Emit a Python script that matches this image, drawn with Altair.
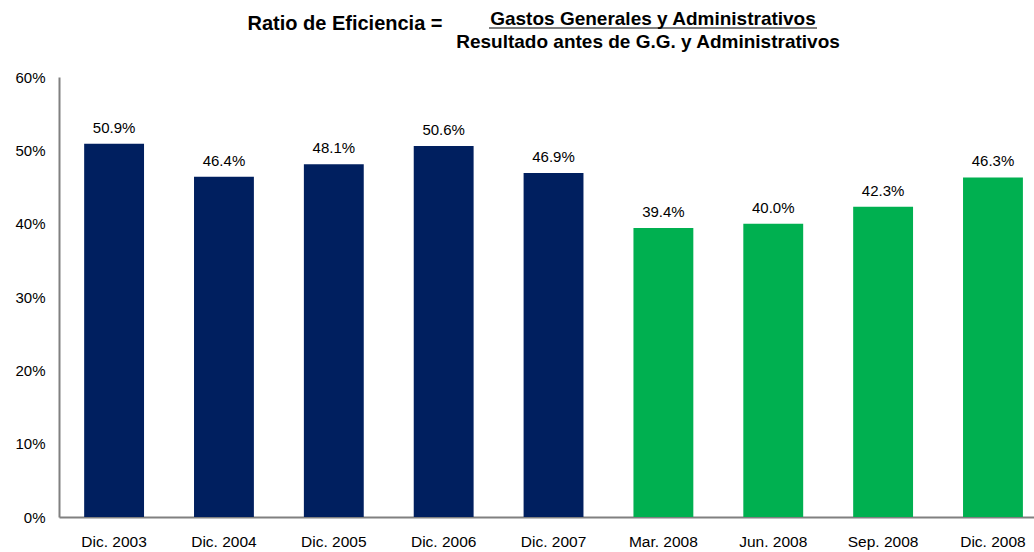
import altair as alt
import pandas as pd

categories = ["Dic. 2003", "Dic. 2004", "Dic. 2005", "Dic. 2006", "Dic. 2007",
              "Mar. 2008", "Jun. 2008", "Sep. 2008", "Dic. 2008"]
values = [50.9, 46.4, 48.1, 50.6, 46.9, 39.4, 40.0, 42.3, 46.3]
groups = ["Anual"] * 5 + ["Trimestral"] * 4
group_colors = ["#001f5f", "#00b050"]
title_left = "Ratio de Eficiencia ="
title_num = "Gastos Generales y Administrativos"
title_den = "Resultado antes de G.G. y Administrativos"

df = pd.DataFrame({"cat": categories, "val": values, "grp": groups,
                   "lbl": [f"{v:.1f}%" for v in values]})

FONT = "Liberation Sans"

x = alt.X("cat:N", sort=categories, title=None,
          scale=alt.Scale(paddingInner=0.455, paddingOuter=0.165, align=0.694),
          axis=alt.Axis(labelAngle=0, ticks=False, domainColor="#808080", domainWidth=2,
                        labelFont=FONT, labelFontSize=15.5, labelColor="#000000",
                        labelPadding=17, labelBaseline="top"))
y = alt.Y("val:Q", title=None,
          scale=alt.Scale(domain=[0, 60], nice=False),
          axis=alt.Axis(values=[0, 10, 20, 30, 40, 50, 60], labelExpr="datum.value + '%'",
                        ticks=False, grid=False, domainColor="#808080", domainWidth=2,
                        labelFont=FONT, labelFontSize=15, labelColor="#000000",
                        labelPadding=14))

base = alt.Chart(df)
bars = base.mark_bar().encode(
    x=x, y=y,
    color=alt.Color("grp:N", scale=alt.Scale(domain=["Anual", "Trimestral"], range=group_colors),
                    legend=None))
labels = base.mark_text(dy=-8, baseline="bottom", font=FONT, fontSize=15, color="#000000").encode(
    x=x, y=y, text="lbl:N")

tdf = pd.DataFrame({"t": [title_left]})
t1 = alt.Chart(tdf).mark_text(font=FONT, fontSize=20, fontWeight="bold", color="#000000",
                              baseline="middle", align="center").encode(
    x=alt.value(286), y=alt.value(-53), text="t:N")
ndf = pd.DataFrame({"t": [title_num]})
t2 = alt.Chart(ndf).mark_text(font=FONT, fontSize=19, fontWeight="bold", color="#000000",
                              baseline="middle", align="center").encode(
    x=alt.value(594), y=alt.value(-58), text="t:N")
ddf = pd.DataFrame({"t": [title_den]})
t3 = alt.Chart(ddf).mark_text(font=FONT, fontSize=19, fontWeight="bold", color="#000000",
                              baseline="middle", align="center").encode(
    x=alt.value(589), y=alt.value(-35), text="t:N")
underline = alt.Chart(ndf).mark_rule(color="#000000", strokeWidth=1.2).encode(
    x=alt.value(430), x2=alt.value(758), y=alt.value(-49))

chart = alt.layer(bars, labels, t1, t2, t3, underline).properties(
    width=975, height=440,
    autosize=alt.AutoSizeParams(type="none"),
    padding={"left": 59, "top": 77, "right": 0, "bottom": 35},
    background="#ffffff",
).configure_view(stroke=None)

chart.save("out.html", embed_options={"renderer": "svg", "actions": False})
